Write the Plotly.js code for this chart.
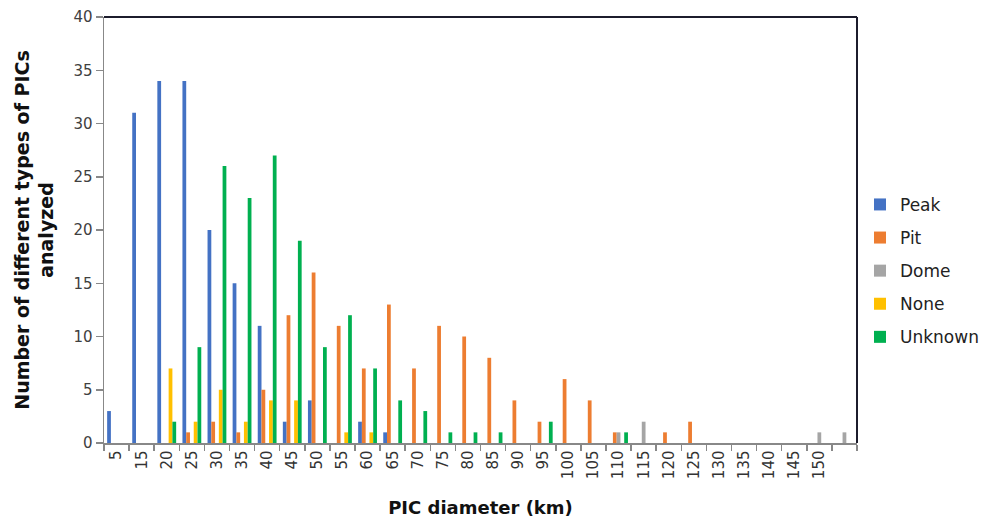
<!DOCTYPE html>
<html>
<head>
<meta charset="utf-8">
<script src="https://cdn.plot.ly/plotly-3.0.1.min.js"></script>
<style>html,body{margin:0;padding:0;background:#fff;}#chart{width:983px;height:525px;}</style>
</head>
<body>
<div id="chart"></div>
<script>
const categories = ["5","15","20","25","30","35","40","45","50","55","60","65","70","75","80","85","90","95","100","105","110","115","120","125","130","135","140","145","150"," "];
const peak    = [3,31,34,34,20,15,11,2,4,0,2,1,0,0,0,0,0,0,0,0,0,0,0,0,0,0,0,0,0,0];
const pit     = [0,0,0,1,2,1,5,12,16,11,7,13,7,11,10,8,4,2,6,4,1,0,1,2,0,0,0,0,0,0];
const dome    = [0,0,0,0,0,0,0,0,0,0,0,0,0,0,0,0,0,0,0,0,1,2,0,0,0,0,0,0,1,1];
const none    = [0,0,7,2,5,2,4,4,0,1,1,0,0,0,0,0,0,0,0,0,0,0,0,0,0,0,0,0,0,0];
const unknown = [0,0,2,9,26,23,27,19,9,12,7,4,3,1,1,1,0,2,0,0,1,0,0,0,0,0,0,0,0,0];
const seriesNames = ["Peak","Pit","Dome","None","Unknown"];
const seriesColors = ["#4472C4","#ED7D31","#A5A5A5","#FFC000","#00B050"];
const seriesData = [peak,pit,dome,none,unknown];

const traces = seriesData.map((d,i)=>({
  type:"bar", name:seriesNames[i], x:categories, y:d,
  marker:{color:seriesColors[i]}, legendgroup:"g"+i, hoverinfo:"x+y+name"
}));

const titleFont = "DejaVu Sans, Liberation Sans, sans-serif";
const layout = {
  width:983, height:525,
  margin:{l:104, r:126, t:17, b:82, pad:0, autoexpand:false},
  paper_bgcolor:"#fff", plot_bgcolor:"#fff",
  barmode:"group", bargap:0.25, bargroupgap:0,
  font:{family:"DejaVu Sans, Liberation Sans, sans-serif", color:"#333"},
  xaxis:{
    type:"category", tickson:"boundaries", ticks:"outside", ticklen:6, tickcolor:"#888", tickwidth:1.5,
    showline:true, linecolor:"#888", linewidth:1.5, showgrid:false, zeroline:false,
    tickangle:-90, tickfont:{size:15, color:"#333", family:"DejaVu Sans, sans-serif"},
    title:{text:"<b>PIC diameter (km)</b>", font:{size:18, color:"#111", family:titleFont}, standoff:23},
    automargin:false
  },
  yaxis:{
    range:[0,40], tickvals:[0,5,10,15,20,25,30,35,40], ticks:"outside", ticklen:7, tickcolor:"#888", tickwidth:1.5,
    showline:true, linecolor:"#888", linewidth:1.5, showgrid:false, zeroline:false,
    tickfont:{size:15, color:"#404040", family:"DejaVu Sans, sans-serif"},
    title:{text:"<b>Number of different types of PICs<br>analyzed</b>", font:{size:19, color:"#111", family:titleFont}, standoff:14},
    automargin:false
  },
  legend:{x:1.004, xanchor:"left", y:0.404, yanchor:"middle", font:{size:17, color:"#222", family:"DejaVu Sans, sans-serif"}, tracegroupgap:8, itemwidth:30, bgcolor:"rgba(0,0,0,0)"},
  shapes:[
    {type:"line", xref:"paper", yref:"paper", x0:0, x1:1, y0:1, y1:1, line:{color:"#1c1c2c", width:2}},
    {type:"line", xref:"paper", yref:"paper", x0:1, x1:1, y0:0, y1:1, line:{color:"#1c1c2c", width:2}}
  ]
};
Plotly.newPlot("chart", traces, layout, {displayModeBar:false, staticPlot:true});
</script>
</body>
</html>
